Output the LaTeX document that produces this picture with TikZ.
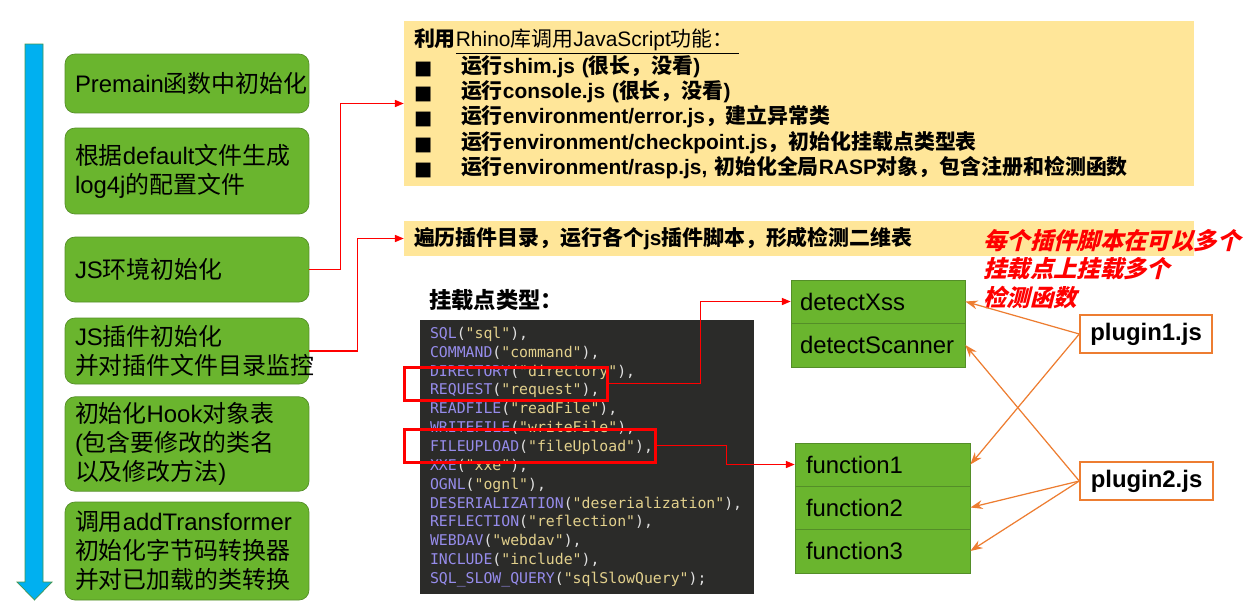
\documentclass[tikz,border=0pt]{standalone}
\usepackage{fontspec}
\setmainfont{Liberation Sans}
\setmonofont{DejaVu Sans Mono}
\newfontfamily\cjkfont{Noto Sans CJK SC}
\newfontfamily\cjkslantfont{Noto Sans CJK SC}[FakeSlant=0.25]
\newfontfamily\symfont{DejaVu Sans}
\usetikzlibrary{arrows.meta,positioning,fit}

% switch to the CJK font for every run of Chinese characters
\XeTeXinterchartokenstate=1
\chardef\cjkclass=5
\def\setcjkrange#1#2{\count255=#1 \loop\XeTeXcharclass\count255=\cjkclass\relax
  \ifnum\count255<#2 \advance\count255 by 1 \repeat}
\setcjkrange{"3000}{"303F}
\setcjkrange{"4E00}{"9FFF}
\setcjkrange{"FF00}{"FFEF}
\def\cjkcur{\cjkfont}
\XeTeXinterchartoks 0 \cjkclass = {\begingroup\cjkcur}
\XeTeXinterchartoks 4095 \cjkclass = {\begingroup\cjkcur}
\XeTeXinterchartoks \cjkclass 0 = {\endgroup}
\XeTeXinterchartoks \cjkclass 4095 = {\endgroup}

\definecolor{stagegreen}{RGB}{106,181,46}
\definecolor{stageedge}{RGB}{84,142,40}
\definecolor{noteyellow}{RGB}{255,230,153}
\definecolor{flowblue}{RGB}{0,176,240}
\definecolor{plugorange}{RGB}{237,125,49}
\definecolor{codebg}{RGB}{43,43,41}
\definecolor{codeid}{RGB}{150,140,235}
\definecolor{codestr}{RGB}{226,208,140}
\definecolor{codetx}{RGB}{225,225,225}

% one line of the hook point enum
\newcommand{\cl}[3]{\textcolor{codeid}{#1}\textcolor{codetx}{(}\textcolor{codestr}{"#2"}\textcolor{codetx}{)#3}}
\newcommand{\sq}{\makebox[0.94cm][l]{\raisebox{-0.5pt}{\symfont\fontsize{11}{11}\selectfont ■}}}

\begin{document}
\begin{tikzpicture}[x=0.02cm,y=-0.02cm,
  stage/.style={draw=stageedge, fill=stagegreen, rounded corners=0.2cm,
    minimum width=4.88cm, text width=4.48cm, inner xsep=0.2cm, align=left,
    font=\fontsize{13.6}{16.4}\selectfont},
  yellowbox/.style={fill=noteyellow, minimum width=15.8cm, text width=15.4cm,
    inner xsep=0.2cm, align=left, font=\fontsize{11.9}{14.34}\selectfont},
  cell/.style={draw=stageedge, fill=stagegreen, align=left,
    font=\fontsize{13.6}{16}\selectfont},
  plugbox/.style={draw=plugorange, line width=0.85pt, fill=white,
    font=\bfseries\fontsize{13.6}{16}\selectfont},
  hl/.style={draw=red, line width=1.7pt, inner sep=0pt},
  redline/.style={red, line width=0.8pt, -{Triangle[length=5pt,width=4pt]}},
  orgline/.style={plugorange, line width=0.7pt, -{Stealth[length=7pt,width=5pt]}}]

\useasboundingbox (0,0) rectangle (1256,609);

% Time arrow
\filldraw[draw=stageedge!80!flowblue, line width=0.4pt, fill=flowblue]
  (25,44) -- (43,44) -- (43,582) -- (52,582) -- (34.5,600) -- (17,582) -- (25,582) -- cycle;

% Startup steps
\node[stage, minimum height=1.18cm] (premain) at (187,83.5) {Premain函数中初始化};
\node[stage, minimum height=1.72cm] (logcfg) at (187,171) {根据default文件生成\\log4j的配置文件};
\node[stage, minimum height=1.3cm] (jsenv) at (187,269.5) {JS环境初始化};
\node[stage, minimum height=1.32cm] (jsplug) at (187,351) {JS插件初始化\\并对插件文件目录监控};
\node[stage, minimum height=1.76cm] (hooktab) at (187,444) {初始化Hook对象表\\(包含要修改的类名\\以及修改方法)};
\node[stage, minimum height=1.96cm] (transf) at (187,551) {调用addTransformer\\初始化字节码转换器\\并对已加载的类转换};

% Rhino notes
\node[yellowbox, minimum height=3.3cm] (rhino) at (799,103.5) {%
{\bfseries 利用}\underline{Rhino库调用JavaScript功能：\hspace{0.1cm}}\\
\sq{\bfseries 运行shim.js (很长，没看)}\\
\sq{\bfseries 运行console.js (很长，没看)}\\
\sq{\bfseries 运行environment/error.js，建立异常类}\\
\sq{\bfseries 运行environment/checkpoint.js，初始化挂载点类型表}\\
\sq{\bfseries 运行environment/rasp.js, 初始化全局RASP对象，包含注册和检测函数}};
\node[yellowbox, minimum height=0.7cm, font=\bfseries\fontsize{11.9}{14.34}\selectfont]
  (plugdir) at (799,238.5) {遍历插件目录，运行各个js插件脚本，形成检测二维表};

\node[anchor=west, text=red, align=left, inner sep=0pt,
  font=\def\cjkcur{\cjkslantfont}\bfseries\fontsize{13.3}{16.4}\selectfont]
  (note) at (983,269) {每个插件脚本在可以多个\\挂载点上挂载多个\\检测函数};

% Hook point types
\node[anchor=west, inner sep=0pt, font=\bfseries\fontsize{12.7}{14}\selectfont]
  (hooktitle) at (429,300) {挂载点类型：};
\node[fill=codebg, minimum width=6.68cm, minimum height=5.5cm, text width=6.28cm,
  inner xsep=0.2cm, align=left, font=\ttfamily\fontsize{8.43}{10.73}\selectfont]
  (code) at (587,457) {%
\cl{SQL}{sql}{,}\\
\cl{COMMAND}{command}{,}\\
\cl{DIRECTORY}{directory}{,}\\
\cl{REQUEST}{request}{,}\\
\cl{READFILE}{readFile}{,}\\
\cl{WRITEFILE}{writeFile}{,}\\
\cl{FILEUPLOAD}{fileUpload}{,}\\
\cl{XXE}{xxe}{,}\\
\cl{OGNL}{ognl}{,}\\
\cl{DESERIALIZATION}{deserialization}{,}\\
\cl{REFLECTION}{reflection}{,}\\
\cl{WEBDAV}{webdav}{,}\\
\cl{INCLUDE}{include}{,}\\
\cl{SQL\_SLOW\_QUERY}{sqlSlowQuery}{;}};
\node[hl, fit={(404,367) (607,400)}] (req) {};
\node[hl, fit={(404,429) (655,462)}] (upl) {};

% Detect functions
\node[cell, minimum width=3.48cm, text width=3.12cm, inner xsep=0.18cm, minimum height=0.86cm]
  (xss) at (878,301.5) {detectXss};
\node[cell, minimum width=3.48cm, text width=3.12cm, inner xsep=0.18cm, minimum height=0.88cm]
  (scan) at (878,345) {detectScanner};
\node[cell, minimum width=3.5cm, text width=3.06cm, inner xsep=0.22cm, minimum height=0.86cm]
  (fn1) at (882.5,464.5) {function1};
\node[cell, minimum width=3.5cm, text width=3.06cm, inner xsep=0.22cm, minimum height=0.86cm]
  (fn2) at (882.5,507.5) {function2};
\node[cell, minimum width=3.5cm, text width=3.06cm, inner xsep=0.22cm, minimum height=0.88cm]
  (fn3) at (882.5,551) {function3};

% Plugins
\node[plugbox, minimum width=2.64cm, minimum height=0.76cm] (plug1) at (1146,334) {plugin1.js};
\node[plugbox, minimum width=2.66cm, minimum height=0.76cm] (plug2) at (1146.5,481) {plugin2.js};

% red links
\draw[redline] (jsenv.east) -- ++(31,0) |- (rhino.west);
\draw[redline] (jsplug.east) -- ++(48,0) |- (plugdir.west);
\draw[redline] (req.east) -- ++(92,0) |- (xss.west);
\draw[redline] (upl.east) -- ++(70,0) |- (fn1.west);

% plugin links
\draw[orgline] (plug1.west) -- (xss.east);
\draw[orgline] (plug1.west) -- (fn1.east);
\draw[orgline] (plug2.west) -- (scan.east);
\draw[orgline] (plug2.west) -- (fn2.east);
\draw[orgline] (plug2.west) -- (fn3.east);

\end{tikzpicture}
\end{document}
